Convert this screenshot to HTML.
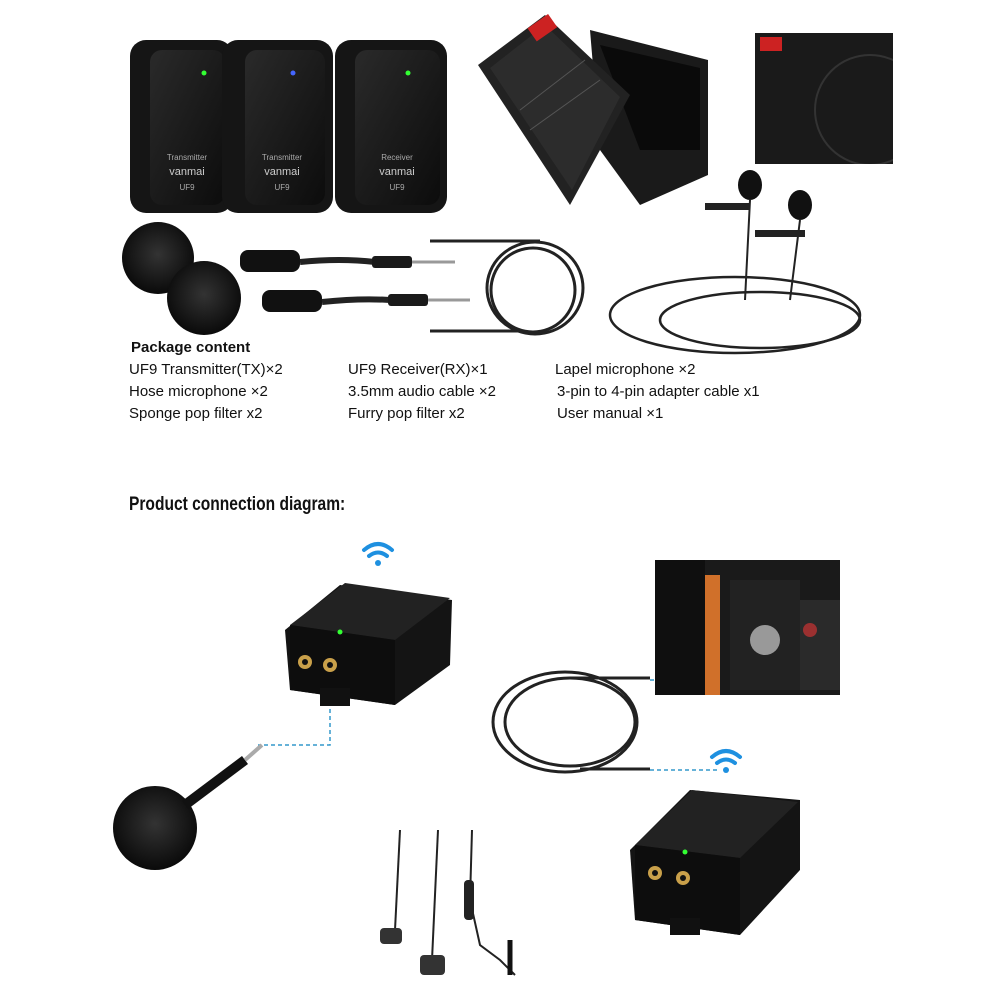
<!DOCTYPE html>
<html><head><meta charset="utf-8"><style>
body{margin:0;background:#fff;}
svg{display:block}
text{font-family:"Liberation Sans",sans-serif;}
</style></head><body>
<svg width="1000" height="1000" viewBox="0 0 1000 1000">
<defs>
<radialGradient id="fur" cx="50%" cy="45%" r="55%"><stop offset="0" stop-color="#333"/><stop offset="1" stop-color="#0a0a0a"/></radialGradient>
<linearGradient id="dev" x1="0" y1="0" x2="1" y2="1"><stop offset="0" stop-color="#2a2a2a"/><stop offset="1" stop-color="#0c0c0c"/></linearGradient>
<clipPath id="man"><rect x="755" y="33" width="138" height="131"/></clipPath>
</defs>
<!-- top devices -->
<g>
<rect x="130" y="40" width="103" height="173" rx="16" fill="#151515"/>
<rect x="150" y="50" width="75" height="155" rx="12" fill="url(#dev)"/>
<circle cx="204" cy="73" r="2.5" fill="#3f3"/>
<text x="187" y="160" font-size="8" fill="#aaa" text-anchor="middle">Transmitter</text>
<text x="187" y="175" font-size="11" fill="#ccc" text-anchor="middle">vanmai</text>
<text x="187" y="190" font-size="8" fill="#aaa" text-anchor="middle">UF9</text>
<rect x="222" y="40" width="111" height="173" rx="16" fill="#151515"/>
<rect x="245" y="50" width="80" height="155" rx="12" fill="url(#dev)"/>
<circle cx="293" cy="73" r="2.5" fill="#46f"/>
<text x="282" y="160" font-size="8" fill="#aaa" text-anchor="middle">Transmitter</text>
<text x="282" y="175" font-size="11" fill="#ccc" text-anchor="middle">vanmai</text>
<text x="282" y="190" font-size="8" fill="#aaa" text-anchor="middle">UF9</text>
<rect x="335" y="40" width="112" height="173" rx="16" fill="#151515"/>
<rect x="355" y="50" width="85" height="155" rx="12" fill="url(#dev)"/>
<circle cx="408" cy="73" r="2.5" fill="#3f3"/>
<text x="397" y="160" font-size="8" fill="#aaa" text-anchor="middle">Receiver</text>
<text x="397" y="175" font-size="11" fill="#ccc" text-anchor="middle">vanmai</text>
<text x="397" y="190" font-size="8" fill="#aaa" text-anchor="middle">UF9</text>
</g>
<!-- box -->
<polygon points="590,30 708,60 708,175 640,205 600,150" fill="#1a1a1a"/>
<polygon points="600,45 700,68 700,150 640,150" fill="#0a0a0a"/>
<polygon points="478,65 545,15 630,95 570,205" fill="#222"/>
<polygon points="490,68 545,25 620,97 572,190" fill="#2c2c2c"/>
<rect x="530" y="20" width="25" height="16" fill="#c22" transform="rotate(-35 542 28)"/>
<path d="M520 110 L585 60 M530 130 L600 80" stroke="#555" stroke-width="1"/>
<rect x="755" y="33" width="138" height="131" fill="#1a1a1a"/>
<g clip-path="url(#man)"><circle cx="870" cy="110" r="55" fill="none" stroke="#333" stroke-width="2"/></g>
<rect x="760" y="37" width="22" height="14" fill="#c22"/>
<!-- furry balls -->
<circle cx="158" cy="258" r="36" fill="url(#fur)"/>
<circle cx="204" cy="298" r="37" fill="url(#fur)"/>
<!-- hose mics -->
<rect x="240" y="250" width="60" height="22" rx="8" fill="#111"/>
<path d="M300 262 Q340 258 375 262" stroke="#222" stroke-width="6" fill="none"/>
<rect x="372" y="256" width="40" height="12" rx="3" fill="#1a1a1a"/>
<line x1="412" y1="262" x2="455" y2="262" stroke="#999" stroke-width="3"/>
<rect x="262" y="290" width="60" height="22" rx="8" fill="#111"/>
<path d="M322 302 Q360 298 390 300" stroke="#222" stroke-width="6" fill="none"/>
<rect x="388" y="294" width="40" height="12" rx="3" fill="#1a1a1a"/>
<line x1="428" y1="300" x2="470" y2="300" stroke="#999" stroke-width="3"/>
<!-- coil cable top -->
<ellipse cx="535" cy="288" rx="48" ry="46" fill="none" stroke="#222" stroke-width="3"/>
<ellipse cx="533" cy="290" rx="42" ry="42" fill="none" stroke="#222" stroke-width="3"/>
<path d="M430 241 L540 241" stroke="#222" stroke-width="3"/>
<path d="M430 331 L520 331" stroke="#222" stroke-width="3"/>
<!-- lapel -->
<ellipse cx="735" cy="315" rx="125" ry="38" fill="none" stroke="#222" stroke-width="2.5"/>
<ellipse cx="760" cy="320" rx="100" ry="28" fill="none" stroke="#222" stroke-width="2.5"/>
<ellipse cx="750" cy="185" rx="12" ry="15" fill="#111"/>
<ellipse cx="800" cy="205" rx="12" ry="15" fill="#111"/>
<rect x="705" y="203" width="45" height="7" fill="#222"/>
<rect x="755" y="230" width="50" height="7" fill="#222"/>
<path d="M750 200 L745 300 M800 220 L790 300" stroke="#222" stroke-width="2"/>
<!-- package text -->
<g font-size="15" fill="#111">
<text x="131" y="352" font-weight="bold">Package content</text>
<text x="129" y="374">UF9 Transmitter(TX)×2</text>
<text x="129" y="396">Hose microphone ×2</text>
<text x="129" y="418">Sponge pop filter x2</text>
<text x="348" y="374">UF9 Receiver(RX)×1</text>
<text x="348" y="396">3.5mm audio cable ×2</text>
<text x="348" y="418">Furry pop filter x2</text>
<text x="555" y="374">Lapel microphone ×2</text>
<text x="557" y="396">3-pin to 4-pin adapter cable x1</text>
<text x="557" y="418">User manual ×1</text>
</g>
<text x="129" y="510" font-size="19" font-weight="bold" fill="#111" transform="translate(129 0) scale(0.82 1) translate(-129 0)">Product connection diagram:</text>
<!-- dashed lines -->
<g stroke="#39c" stroke-width="1.5" stroke-dasharray="4 3" fill="none">
<path d="M330 702 L330 745 L258 745"/>
<path d="M650 680 L840 680"/>
<path d="M650 770 L720 770"/>
</g>
<!-- TX device -->
<polygon points="285,630 340,585 452,600 450,665 395,705 290,690" fill="#141414"/>
<polygon points="290,625 345,583 450,598 395,640" fill="#222"/>
<polygon points="290,625 395,640 395,705 290,690" fill="#0d0d0d"/>
<circle cx="340" cy="632" r="2.5" fill="#3f3"/>
<circle cx="305" cy="662" r="7" fill="#c9a04a"/><circle cx="305" cy="662" r="3" fill="#111"/>
<circle cx="330" cy="665" r="7" fill="#c9a04a"/><circle cx="330" cy="665" r="3" fill="#111"/>
<rect x="320" y="688" width="30" height="18" fill="#111"/>
<!-- wifi -->
<g fill="none" stroke="#1e90e0" stroke-width="4" stroke-linecap="round">
<path d="M364 550 Q378 538 392 550"/><path d="M369 556 Q378 549 387 556"/>
<path d="M712 757 Q726 745 740 757"/><path d="M717 763 Q726 756 735 763"/>
</g>
<circle cx="378" cy="563" r="3" fill="#1e90e0"/>
<circle cx="726" cy="770" r="3" fill="#1e90e0"/>
<!-- camera -->
<rect x="655" y="560" width="185" height="135" fill="#1a1a1a"/>
<rect x="655" y="560" width="50" height="135" fill="#0f0f0f"/>
<rect x="705" y="575" width="15" height="120" fill="#d0702a"/>
<rect x="730" y="580" width="70" height="110" fill="#222"/>
<circle cx="765" cy="640" r="15" fill="#999"/>
<rect x="800" y="600" width="40" height="90" fill="#2a2a2a"/>
<circle cx="810" cy="630" r="7" fill="#c33" fill-opacity=".7"/>
<!-- coil cable bottom -->
<ellipse cx="565" cy="722" rx="72" ry="50" fill="none" stroke="#222" stroke-width="3"/>
<ellipse cx="570" cy="722" rx="65" ry="44" fill="none" stroke="#222" stroke-width="3"/>
<line x1="570" y1="678" x2="650" y2="678" stroke="#222" stroke-width="3"/>
<line x1="580" y1="769" x2="650" y2="769" stroke="#222" stroke-width="3"/>
<!-- mic -->
<circle cx="155" cy="828" r="42" fill="url(#fur)"/>
<line x1="185" y1="805" x2="245" y2="760" stroke="#111" stroke-width="10"/>
<line x1="245" y1="760" x2="262" y2="745" stroke="#aaa" stroke-width="4"/>
<!-- RX device -->
<polygon points="630,850 690,790 800,800 800,870 740,935 635,920" fill="#141414"/>
<polygon points="635,845 692,790 798,802 740,858" fill="#222"/>
<polygon points="635,845 740,858 740,935 635,920" fill="#0d0d0d"/>
<circle cx="685" cy="852" r="2.5" fill="#3f3"/>
<circle cx="655" cy="873" r="7" fill="#c9a04a"/><circle cx="655" cy="873" r="3" fill="#111"/>
<circle cx="683" cy="878" r="7" fill="#c9a04a"/><circle cx="683" cy="878" r="3" fill="#111"/>
<rect x="670" y="918" width="30" height="17" fill="#111"/>
<!-- earphones -->
<g stroke="#222" stroke-width="2" fill="none">
<path d="M400 830 L395 930"/><path d="M438 830 L432 960"/><path d="M472 830 L470 900 L480 945 L500 960 L515 975"/>
</g>
<rect x="380" y="928" width="22" height="16" rx="4" fill="#333"/>
<rect x="420" y="955" width="25" height="20" rx="4" fill="#333"/>
<rect x="464" y="880" width="10" height="40" rx="4" fill="#222"/>
<line x1="510" y1="940" x2="510" y2="975" stroke="#111" stroke-width="5"/>
</svg>
</body></html>
